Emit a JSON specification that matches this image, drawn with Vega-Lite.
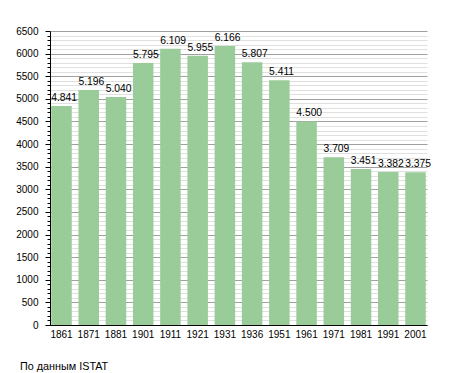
{
  "$schema": "https://vega.github.io/schema/vega-lite/v6.json",
  "autosize": "none",
  "width": 377,
  "height": 294,
  "padding": {"left": 50, "top": 31, "right": 28, "bottom": 48},
  "background": "white",
  "config": {
    "font": "Liberation Sans",
    "view": {"stroke": null},
    "locale": {"number": {"decimal": ",", "thousands": ".", "grouping": [3], "currency": ["", ""]}}
  },
  "title": {
    "text": "По данным  ISTAT",
    "orient": "bottom",
    "anchor": "start",
    "frame": "group",
    "dx": -30,
    "offset": 22,
    "fontSize": 10.8,
    "fontWeight": "normal",
    "color": "black",
    "font": "Liberation Sans"
  },
  "data": {
    "values": [
      {"year": "1861", "pop": 4841},
      {"year": "1871", "pop": 5196},
      {"year": "1881", "pop": 5040},
      {"year": "1901", "pop": 5795},
      {"year": "1911", "pop": 6109},
      {"year": "1921", "pop": 5955},
      {"year": "1931", "pop": 6166},
      {"year": "1936", "pop": 5807},
      {"year": "1951", "pop": 5411},
      {"year": "1961", "pop": 4500},
      {"year": "1971", "pop": 3709},
      {"year": "1981", "pop": 3451},
      {"year": "1991", "pop": 3382},
      {"year": "2001", "pop": 3375}
    ]
  },
  "encoding": {
    "x": {
      "field": "year",
      "type": "ordinal",
      "sort": null,
      "scale": {"paddingInner": 0.247, "paddingOuter": 0.046},
      "axis": {
        "title": null,
        "labelAngle": 0,
        "ticks": false,
        "domainColor": "black",
        "labelPadding": 4,
        "labelFontSize": 10,
        "labelColor": "black",
        "zindex": 1
      }
    },
    "y": {
      "field": "pop",
      "type": "quantitative",
      "scale": {"domain": [0, 6500], "nice": false},
      "axis": {
        "title": null,
        "values": [0,100,200,300,400,500,600,700,800,900,1000,1100,1200,1300,1400,1500,1600,1700,1800,1900,2000,2100,2200,2300,2400,2500,2600,2700,2800,2900,3000,3100,3200,3300,3400,3500,3600,3700,3800,3900,4000,4100,4200,4300,4400,4500,4600,4700,4800,4900,5000,5100,5200,5300,5400,5500,5600,5700,5800,5900,6000,6100,6200,6300,6400,6500],
        "labelExpr": "datum.value % 500 === 0 ? datum.value + '' : ''",
        "grid": true,
        "gridColor": {"condition": {"test": "datum.value % 500 === 0", "value": "#a0a0a0"}, "value": "#e0e0e0"},
        "tickColor": "black",
        "tickSize": {"condition": {"test": "datum.value % 500 === 0", "value": 5}, "value": 3},
        "labelPadding": 7,
        "labelFontSize": 10,
        "labelColor": "black",
        "domainColor": "black",
        "labelOverlap": false,
        "zindex": 0
      }
    }
  },
  "layer": [
    {"mark": {"type": "bar", "color": "#99cc99"}},
    {
      "mark": {"type": "text", "align": "left", "baseline": "alphabetic", "dy": -5, "fontSize": 10.3, "color": "black"},
      "encoding": {
        "x": {"field": "year", "type": "ordinal", "sort": null, "bandPosition": 0},
        "text": {"field": "pop", "type": "quantitative", "format": ",d"}
      }
    }
  ]
}
